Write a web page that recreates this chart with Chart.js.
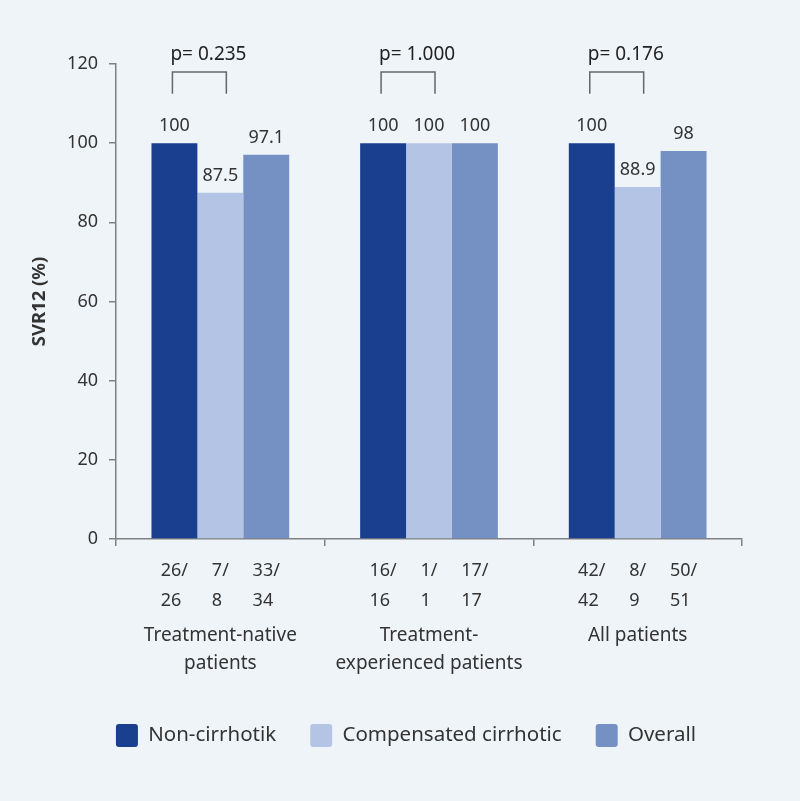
<!DOCTYPE html>
<html>
<head>
<meta charset="utf-8">
<script src="https://cdn.jsdelivr.net/npm/chart.js@4.4.0/dist/chart.umd.min.js"></script>
<style>
  html, body { margin: 0; padding: 0; background: #eff4f9; }
  #wrap { width: 800px; height: 801px; }
</style>
</head>
<body>
<div id="wrap"><canvas id="chart"></canvas></div>
<script>
const groups = [['Treatment-native', 'patients'], ['Treatment-', 'experienced patients'], ['All patients']]
const seriesNames = ['Non-cirrhotik', 'Compensated cirrhotic', 'Overall']
const nonCirrhotic = [100, 100, 100]
const compensated = [87.5, 100, 88.9]
const overall = [97.1, 100, 98]
// patients cured / treated, per group, per series
const cured = [[26, 7, 33], [16, 1, 17], [42, 8, 50]]
const treated = [[26, 8, 34], [16, 1, 17], [42, 9, 51]]
const pValues = ['p= 0.235', 'p= 1.000', 'p= 0.176']
const yMin = 0, yMax = 120, yStep = 20

const colors = ['#1a3f8f', '#b4c4e4', '#7591c4']
const textColor = '#333333'
const fontFamily = '"Noto Sans", "Open Sans", sans-serif'

const annotations = {
  id: 'annotations',
  afterLayout(chart) {
    // legend sits a little right of the page centre
    chart.legend.left += 35
    chart.legend.right += 35
  },
  afterDatasetsDraw(chart) {
    var ctx = chart.ctx
    var bottom = chart.chartArea.bottom
    ctx.save()
    ctx.fillStyle = textColor
    // values above bars
    ctx.font = '18px ' + fontFamily
    ctx.textAlign = 'center'
    ctx.textBaseline = 'bottom'
    chart.data.datasets.forEach(function(set, di) {
      chart.getDatasetMeta(di).data.forEach(function(bar, i) {
        ctx.fillText(String(set.data[i]), bar.x, bar.y - 8)
      })
    })
    // n/N under bars
    ctx.font = '18px ' + fontFamily
    ctx.textAlign = 'left'
    ctx.textBaseline = 'middle'
    chart.data.datasets.forEach(function(set, di) {
      chart.getDatasetMeta(di).data.forEach(function(bar, i) {
        var top = cured[i][di] + '/'
        var x0 = bar.x - ctx.measureText(top).width / 2
        ctx.fillText(top, x0, bottom + 32)
        ctx.fillText(String(treated[i][di]), x0, bottom + 62)
      })
    })
    // p-value brackets
    var m0 = chart.getDatasetMeta(0).data
    var m1 = chart.getDatasetMeta(1).data
    ctx.strokeStyle = '#666666'
    ctx.lineWidth = 1.5
    ctx.font = '19px ' + fontFamily
    ctx.fillStyle = '#222222'
    ctx.textBaseline = 'alphabetic'
    pValues.forEach(function(p, i) {
      var x1 = m0[i].x - 2
      var x2 = m1[i].x + 6
      var yTop = chart.scales.y.getPixelForValue(118)
      var yBot = chart.scales.y.getPixelForValue(112.5)
      ctx.beginPath()
      ctx.moveTo(x1, yBot)
      ctx.lineTo(x1, yTop)
      ctx.lineTo(x2, yTop)
      ctx.lineTo(x2, yBot)
      ctx.stroke()
      ctx.fillText(p, x1 - 2, yTop - 12)
    })
    ctx.restore()
  }
}

new Chart(document.getElementById('chart'), {
  type: 'bar',
  data: {
    labels: groups,
    datasets: [
      { label: seriesNames[0], data: nonCirrhotic, backgroundColor: colors[0] },
      { label: seriesNames[1], data: compensated, backgroundColor: colors[1] },
      { label: seriesNames[2], data: overall, backgroundColor: colors[2] }
    ]
  },
  options: {
    responsive: true,
    maintainAspectRatio: false,
    animation: false,
    categoryPercentage: 0.66,
    barPercentage: 1.0,
    layout: { padding: { top: 64, right: 58, bottom: 44, left: 0 } },
    plugins: {
      tooltip: { enabled: false },
      legend: {
        position: 'bottom',
        labels: {
          boxWidth: 22,
          boxHeight: 23,
          padding: 34,
          useBorderRadius: true,
          borderRadius: 3,
          color: textColor,
          font: { family: fontFamily, size: 20.5 }
        }
      }
    },
    scales: {
      x: {
        afterFit: function(scale) { scale.height = 151 },
        border: { color: '#808080', width: 1.5 },
        grid: { drawOnChartArea: false, drawTicks: true, tickLength: 7, color: '#808080', lineWidth: 1.5 },
        ticks: {
          padding: 76,
          color: textColor,
          maxRotation: 0,
          font: { family: fontFamily, size: 19, lineHeight: 1.47 }
        }
      },
      y: {
        min: yMin,
        max: yMax,
        afterFit: function(scale) { scale.width = 116 },
        border: { color: '#808080', width: 1.5 },
        grid: { drawOnChartArea: false, drawTicks: true, tickLength: 7, color: '#808080', lineWidth: 1.5 },
        ticks: {
          stepSize: yStep,
          padding: 11,
          color: textColor,
          font: { family: fontFamily, size: 18 }
        },
        title: {
          display: true,
          text: 'SVR12 (%)',
          color: textColor,
          padding: { top: 29, bottom: 0 },
          font: { family: fontFamily, size: 18.5, weight: 'bold' }
        }
      }
    }
  },
  plugins: [annotations]
})
</script>
</body>
</html>
